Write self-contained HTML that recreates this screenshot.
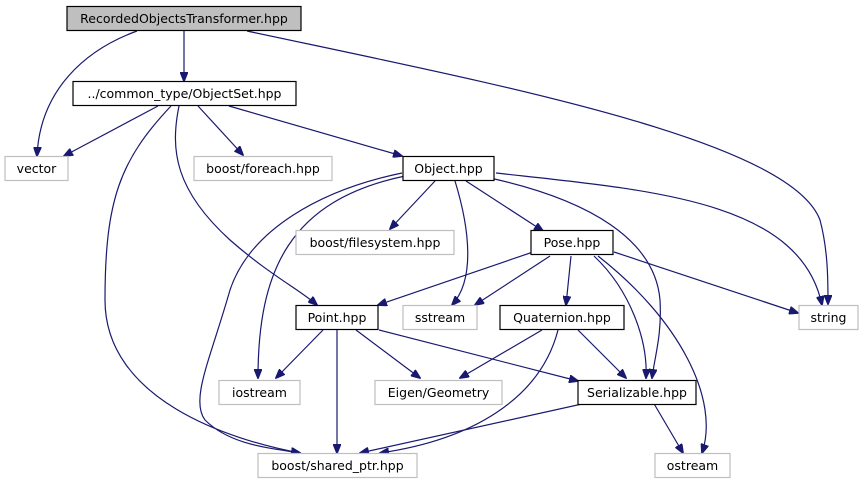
<!DOCTYPE html>
<html><head><meta charset="utf-8"><style>
html,body{margin:0;padding:0;background:#fff;width:863px;height:485px;overflow:hidden}
text{font-family:"DejaVu Sans","Liberation Sans",sans-serif;font-size:12.5px;fill:#000}
</style></head><body>
<svg width="863" height="485" viewBox="0 0 863 485" xmlns="http://www.w3.org/2000/svg">
<defs><marker id="a" markerWidth="10" markerHeight="8" refX="9" refY="4" orient="auto" markerUnits="userSpaceOnUse"><path d="M0,0 L10,4 L0,8 Z" fill="#191970" stroke="#191970"/></marker></defs>
<g fill="none" stroke="#191970" stroke-width="1.2" marker-end="url(#a)">
<path d="M137,31 C85,50 40,90 37,156"/>
<path d="M184,31 L184,81"/>
<path d="M247,31 C500,85 790,140 820,220 C828,250 828,280 828,304"/>
<path d="M158,106 L64,156"/>
<path d="M198,106 L243,155"/>
<path d="M229,106 L402,156"/>
<path d="M179,106 C170,150 175,190 230,240 C270,275 300,290 317,305"/>
<path d="M171,106 C120,160 105,200 105,300 C105,400 230,440 300,453"/>
<path d="M435,181 L390,229"/>
<path d="M402,173 C320,190 250,230 230,290 C210,360 190,400 205,420 C230,445 270,448 300,453"/>
<path d="M405,176 C290,200 258,270 258,378"/>
<path d="M455,181 C470,230 475,280 452,305"/>
<path d="M466,181 L543,231"/>
<path d="M490,178 C590,200 655,240 660,300 C662,335 655,355 652,378"/>
<path d="M496,173 C650,190 800,200 822,305"/>
<path d="M533,252 L378,305"/>
<path d="M550,256 L475,305"/>
<path d="M571,256 L566,305"/>
<path d="M594,256 C630,290 648,340 646,378"/>
<path d="M598,256 C680,320 720,400 702,453"/>
<path d="M614,252 L798,313"/>
<path d="M323,330 L276,378"/>
<path d="M356,330 L420,378"/>
<path d="M337,330 L337,453"/>
<path d="M379,330 L578,381"/>
<path d="M542,330 L460,378"/>
<path d="M578,330 L626,378"/>
<path d="M558,330 C540,400 470,440 380,453"/>
<path d="M591,402 L360,453"/>
<path d="M653,402 L683,453"/>
</g>
<g stroke-width="1.2">
<rect x="67" y="6.5" width="234" height="24" fill="#bfbfbf" stroke="#000"/>
<rect x="73" y="81.5" width="223" height="24" fill="#fff" stroke="#000"/>
<rect x="5" y="156.5" width="63" height="24" fill="#fff" stroke="#bfbfbf"/>
<rect x="194" y="156.5" width="138" height="24" fill="#fff" stroke="#bfbfbf"/>
<rect x="403" y="156.5" width="91" height="24" fill="#fff" stroke="#000"/>
<rect x="296" y="230.5" width="158" height="24" fill="#fff" stroke="#bfbfbf"/>
<rect x="531" y="230.5" width="82" height="24" fill="#fff" stroke="#000"/>
<rect x="296" y="305.5" width="82" height="24" fill="#fff" stroke="#000"/>
<rect x="403" y="305.5" width="74" height="24" fill="#fff" stroke="#bfbfbf"/>
<rect x="500" y="305.5" width="124" height="24" fill="#fff" stroke="#000"/>
<rect x="799" y="305.5" width="59" height="24" fill="#fff" stroke="#bfbfbf"/>
<rect x="219" y="380.5" width="81" height="24" fill="#fff" stroke="#bfbfbf"/>
<rect x="375" y="380.5" width="127" height="24" fill="#fff" stroke="#bfbfbf"/>
<rect x="578" y="380.5" width="118" height="24" fill="#fff" stroke="#000"/>
<rect x="258" y="453.5" width="159" height="24" fill="#fff" stroke="#bfbfbf"/>
<rect x="655" y="453.5" width="75" height="24" fill="#fff" stroke="#bfbfbf"/>
</g>
<g text-anchor="middle">
<text x="184" y="23">RecordedObjectsTransformer.hpp</text>
<text x="184.5" y="98">../common_type/ObjectSet.hpp</text>
<text x="36.5" y="173">vector</text>
<text x="263" y="173">boost/foreach.hpp</text>
<text x="448.5" y="173">Object.hpp</text>
<text x="375" y="247">boost/filesystem.hpp</text>
<text x="572" y="247">Pose.hpp</text>
<text x="337" y="322">Point.hpp</text>
<text x="440" y="322">sstream</text>
<text x="562" y="322">Quaternion.hpp</text>
<text x="828.5" y="322">string</text>
<text x="259.5" y="397">iostream</text>
<text x="438.5" y="397">Eigen/Geometry</text>
<text x="637" y="397">Serializable.hpp</text>
<text x="337.5" y="470">boost/shared_ptr.hpp</text>
<text x="692.5" y="470">ostream</text>
</g>
</svg>
</body></html>
